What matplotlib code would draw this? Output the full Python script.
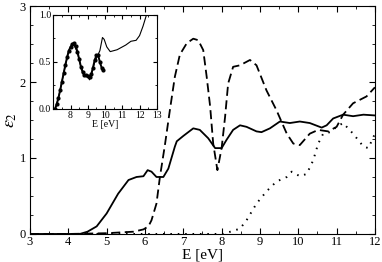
import numpy as np
import matplotlib
matplotlib.use('Agg')
import matplotlib.pyplot as plt
from matplotlib.ticker import MultipleLocator

plt.rcParams['font.family'] = ['Liberation Serif', 'DejaVu Serif']
plt.rcParams['mathtext.fontset'] = 'stix'

# main panel: three spectra
e_solid = [3.0, 4.0, 4.3, 4.5, 4.74, 5.0, 5.3, 5.57, 5.78, 5.96, 6.07, 6.17, 6.3, 6.48,
           6.61, 6.78, 6.83, 7.0, 7.26, 7.43, 7.65, 7.83, 8.0, 8.13, 8.3, 8.48, 8.65,
           8.91, 9.04, 9.26, 9.52, 9.78, 10.04, 10.3, 10.61, 10.74, 10.91, 11.17,
           11.43, 11.7, 12.0]
eps_solid = [0.0, 0.0, 0.0, 0.03, 0.1, 0.27, 0.53, 0.71, 0.75, 0.76, 0.84, 0.82, 0.75,
             0.75, 0.86, 1.15, 1.22, 1.29, 1.39, 1.37, 1.26, 1.13, 1.13, 1.24, 1.37,
             1.43, 1.41, 1.35, 1.34, 1.39, 1.48, 1.46, 1.48, 1.46, 1.4, 1.43, 1.52,
             1.57, 1.55, 1.57, 1.56]

e_dash = [3.0, 4.0, 5.0, 5.7, 5.96, 6.09, 6.17, 6.3, 6.39, 6.52, 6.65, 6.78, 6.91,
          7.09, 7.26, 7.39, 7.52, 7.61, 7.7, 7.78, 7.89, 8.0, 8.09, 8.17, 8.3, 8.48,
          8.74, 8.91, 9.17, 9.43, 9.7, 9.87, 10.04, 10.3, 10.52, 10.78, 11.0, 11.17,
          11.43, 11.78, 12.0]
eps_dash = [0.0, 0.0, 0.01, 0.03, 0.06, 0.1, 0.18, 0.4, 0.75, 1.17, 1.63, 2.07, 2.36,
            2.51, 2.57, 2.55, 2.42, 2.07, 1.68, 1.19, 0.84, 1.13, 1.54, 1.98, 2.2,
            2.22, 2.29, 2.22, 1.89, 1.63, 1.32, 1.19, 1.17, 1.32, 1.37, 1.35, 1.41,
            1.57, 1.72, 1.81, 1.93]

e_dot = [3.0, 5.0, 7.0, 8.04, 8.48, 8.65, 8.91, 9.17, 9.43, 9.7, 9.83, 10.04, 10.22,
         10.39, 10.52, 10.65, 10.83, 11.0, 11.17, 11.43, 11.7, 11.83, 12.0]
eps_dot = [0.0, 0.0, 0.0, 0.0, 0.07, 0.18, 0.4, 0.56, 0.69, 0.75, 0.82, 0.76, 0.79,
           0.97, 1.19, 1.32, 1.34, 1.41, 1.46, 1.32, 1.15, 1.13, 1.32]

# inset: calculated (dots) and experiment (thin line)
e_calc = [7.1, 7.2, 7.3, 7.4, 7.5, 7.6, 7.7, 7.8, 7.9, 8.0, 8.1, 8.2, 8.3, 8.4, 8.5,
          8.6, 8.7, 8.8, 8.9, 9.0, 9.1, 9.2, 9.3, 9.4, 9.5, 9.6, 9.7, 9.8, 9.9]
eps_calc = [0.0, 0.05, 0.12, 0.2, 0.29, 0.38, 0.47, 0.55, 0.62, 0.66, 0.69, 0.70, 0.67,
            0.61, 0.53, 0.45, 0.39, 0.36, 0.36, 0.35, 0.34, 0.37, 0.44, 0.52, 0.57,
            0.57, 0.50, 0.44, 0.41]

e_exp = [7.1, 7.3, 7.6, 7.9, 8.15, 8.4, 8.6, 8.8, 9.0, 9.1, 9.2, 9.4, 9.55, 9.7, 9.85,
         9.95, 10.1, 10.3, 10.5, 10.7, 11.0, 11.2, 11.5, 11.8, 12.0, 12.2, 12.4]
eps_exp = [0.0, 0.12, 0.38, 0.62, 0.70, 0.60, 0.45, 0.37, 0.34, 0.31, 0.36, 0.50, 0.56,
           0.62, 0.76, 0.74, 0.66, 0.61, 0.62, 0.63, 0.66, 0.68, 0.72, 0.73, 0.78,
           0.88, 1.0]

fig = plt.figure(figsize=(3.82, 2.62), dpi=100)
ax = fig.add_axes([0.0785, 0.107, 0.903, 0.870])

ax.plot(e_solid, eps_solid, color='black', lw=1.3)
ax.plot(e_dash, eps_dash, color='black', lw=1.3, dashes=(5, 2.5))
ax.plot(e_dot, eps_dot, color='black', lw=1.4, dashes=(0.8, 3))

ax.set_xlim(3, 12)
ax.set_ylim(0, 3)
ax.xaxis.set_major_locator(MultipleLocator(1))
ax.xaxis.set_minor_locator(MultipleLocator(0.5))
ax.yaxis.set_major_locator(MultipleLocator(1))
ax.yaxis.set_minor_locator(MultipleLocator(0.25))
ax.tick_params(which='both', direction='in', top=True, right=True, labelsize=9)
ax.tick_params(axis='x', pad=1.5)
ax.tick_params(axis='y', pad=3)
ax.tick_params(which='major', length=4)
ax.tick_params(which='minor', length=2)
ax.set_xlabel('E [eV]', fontsize=11, labelpad=0)
ax.set_ylabel(r'$\varepsilon_2$', fontsize=13, labelpad=0.5)

ins = fig.add_axes([0.1395, 0.584, 0.271, 0.359])
ins.plot(e_exp, eps_exp, color='black', lw=0.8)
ins.plot(e_calc, eps_calc, color='black', lw=1.4, marker='o', ms=2.0)
ins.set_xlim(7, 13)
ins.set_ylim(0, 1)
ins.set_xticks([7, 8, 9, 10, 11, 12, 13])
ins.set_xticklabels(['', '8', '9', '10', '11', '12', '13'])
ins.xaxis.set_minor_locator(MultipleLocator(0.5))
ins.set_yticks([0, 0.5, 1.0])
ins.set_yticklabels(['0.0', '0.5', '1.0'])
ins.yaxis.set_minor_locator(MultipleLocator(0.25))
ins.tick_params(which='both', direction='in', top=True, right=True, labelsize=7, pad=1.5)
ins.tick_params(which='major', length=3)
ins.tick_params(which='minor', length=1.5)
ins.set_xlabel('E [eV]', fontsize=7, labelpad=0)

fig.savefig('out.png', dpi=100)
